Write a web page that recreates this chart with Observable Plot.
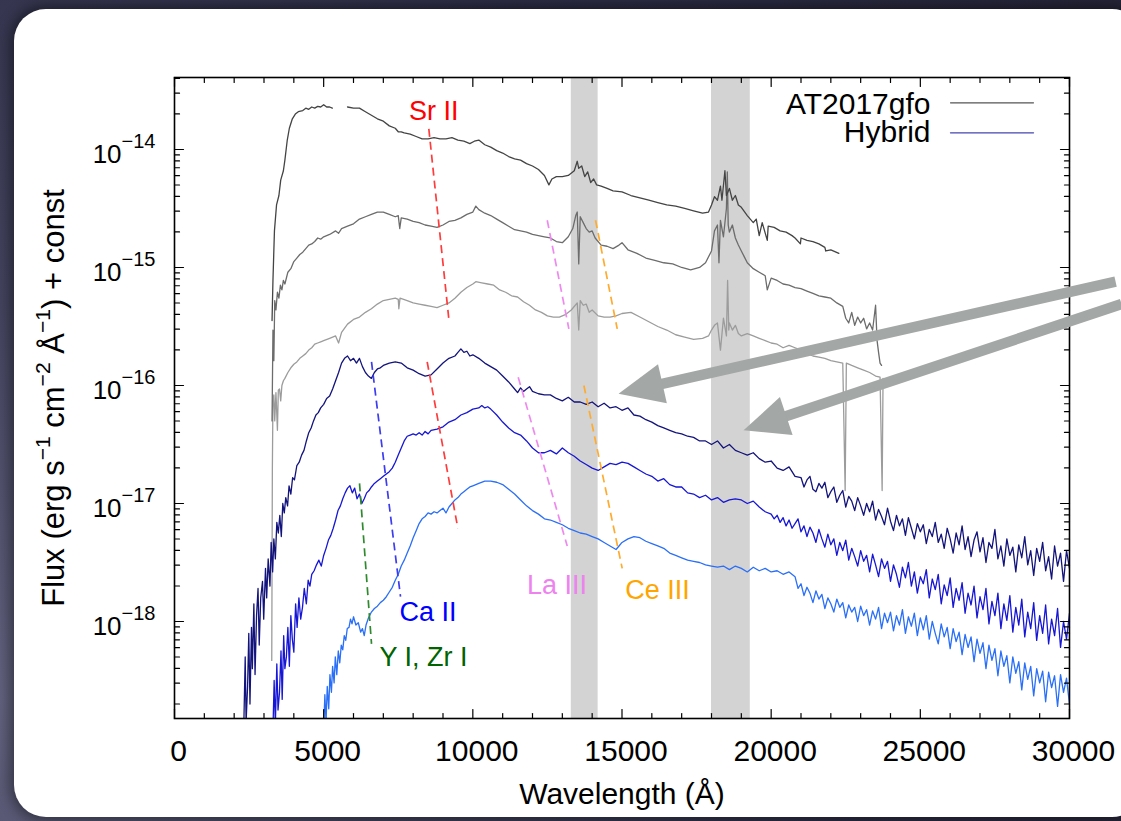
<!DOCTYPE html>
<html><head><meta charset="utf-8">
<script src="https://cdn.jsdelivr.net/npm/d3@7"></script>
<script src="https://cdn.jsdelivr.net/npm/@observablehq/plot@0.6"></script>
<style>
html,body{margin:0;padding:0;width:1121px;height:821px;overflow:hidden;}
body{position:relative;background:radial-gradient(circle at 0% 85%, #62627f 0%, #44445f 30%, #2e2e48 65%, #26263a 100%);font-family:"Liberation Sans",Arial,sans-serif;}
#panel{position:absolute;left:14px;top:9px;width:1130px;height:808px;background:#fff;border-radius:32px;box-shadow:0 0 14px 4px rgba(0,0,0,0.45);}
#chart{position:absolute;left:0;top:0;}
</style></head><body><div id="panel"></div><div id="chart"></div>
<script>
// ---- spectra: [wavelength (Å), log10 flux (erg s^-1 cm^-2 Å^-1) + const]
const at2017gfoTop = [[3270,-15.45],[3300,-15.11],[3350,-14.69],[3420,-14.47],[3500,-14.39],[3560,-14.26],[3650,-14.18],[3700,-14.09],[3780,-13.92],[3850,-13.82],[3950,-13.74],[4050,-13.70],[4150,-13.68],[4300,-13.67],[4400,-13.65],[4500,-13.66],[4600,-13.64],[4700,-13.65],[4800,-13.635],[4900,-13.64],[5000,-13.62],[5100,-13.64],[5200,-13.64],[5290,-13.65],[5500,NaN],[5800,-13.64],[6000,-13.65],[6200,-13.65],[6400,-13.68],[6600,-13.71],[6800,-13.74],[7000,-13.76],[7200,-13.80],[7400,-13.82],[7500,-13.85],[7600,-13.85],[7700,-13.86],[7900,-13.87],[8100,-13.89],[8300,-13.91],[8500,-13.91],[8700,-13.90],[8900,-13.91],[9100,-13.91],[9300,-13.90],[9500,-13.92],[9700,-13.93],[9900,-13.95],[10050,-13.93],[10200,-13.92],[10400,-13.96],[10600,-13.98],[10800,-14.01],[11000,-14.03],[11200,-14.06],[11400,-14.08],[11600,-14.09],[11800,-14.12],[12000,-14.14],[12200,-14.17],[12400,-14.22],[12550,-14.30],[12650,-14.25],[12800,-14.23],[13000,-14.23],[13200,-14.22],[13400,-14.18],[13500,-14.10],[13550,-14.16],[13650,-14.14],[13750,-14.23],[13850,-14.19],[13950,-14.28],[14050,-14.25],[14150,-14.30],[14300,-14.31],[14500,-14.33],[14700,-14.35],[15000,-14.36],[15300,-14.39],[15600,-14.41],[15900,-14.43],[16200,-14.45],[16500,-14.47],[16800,-14.48],[17100,-14.50],[17400,-14.52],[17700,-14.54],[17900,-14.53],[18000,-14.47],[18100,-14.40],[18200,-14.43],[18300,-14.31],[18350,-14.43],[18450,-14.18],[18500,-14.39],[18600,-14.33],[18700,-14.43],[18800,-14.39],[18900,-14.47],[19000,-14.49],[19200,-14.56],[19400,-14.62],[19500,-14.59],[19600,-14.73],[19700,-14.62],[19870,-14.77],[19900,-14.65],[20100,-14.66],[20300,-14.69],[20500,-14.70],[20700,-14.73],[20800,-14.75],[20980,-14.80],[21000,-14.75],[21200,-14.77],[21400,-14.78],[21600,-14.80],[21800,-14.83],[21830,-14.86],[22000,-14.85],[22270,-14.88]];

const at2017gfoMid = [[3270,-16.30],[3300,-15.53],[3330,-15.79],[3360,-15.28],[3400,-15.36],[3450,-15.21],[3500,-15.26],[3550,-15.15],[3600,-15.19],[3650,-15.11],[3700,-15.14],[3800,-15.04],[3900,-15.01],[4000,-14.95],[4100,-14.92],[4200,-14.89],[4300,-14.87],[4400,-14.84],[4500,-14.81],[4600,-14.80],[4700,-14.78],[4800,-14.75],[4900,-14.76],[5000,-14.74],[5200,-14.72],[5400,-14.69],[5500,-14.71],[5600,-14.67],[5800,-14.65],[6000,-14.63],[6200,-14.59],[6400,-14.57],[6600,-14.55],[6800,-14.53],[7000,-14.53],[7200,-14.55],[7400,-14.57],[7500,-14.56],[7550,-14.67],[7600,-14.58],[7800,-14.59],[8000,-14.61],[8200,-14.62],[8400,-14.64],[8600,-14.65],[8800,-14.66],[9000,-14.64],[9200,-14.61],[9400,-14.60],[9600,-14.58],[9800,-14.55],[10000,-14.53],[10100,-14.48],[10200,-14.51],[10400,-14.54],[10600,-14.56],[10800,-14.59],[11000,-14.62],[11200,-14.65],[11400,-14.68],[11600,-14.69],[11800,-14.70],[12000,-14.72],[12200,-14.73],[12400,-14.74],[12600,-14.75],[12800,-14.78],[13000,-14.79],[13200,-14.74],[13350,-14.67],[13450,-14.56],[13500,-14.53],[13550,-14.97],[13600,-14.57],[13700,-14.62],[13800,-14.67],[13900,-14.70],[14000,-14.69],[14100,-14.75],[14300,-14.81],[14500,-14.82],[14700,-14.84],[14900,-14.81],[15000,-14.79],[15200,-14.85],[15500,-14.88],[15800,-14.92],[16100,-14.94],[16400,-14.96],[16700,-14.97],[17000,-15.00],[17300,-15.02],[17600,-15.00],[17800,-14.96],[18000,-14.86],[18100,-14.69],[18200,-14.64],[18250,-14.96],[18300,-14.60],[18400,-14.74],[18500,-14.50],[18530,-14.19],[18560,-14.64],[18600,-14.70],[18700,-14.64],[18800,-14.75],[18900,-14.81],[19000,-14.86],[19100,-14.91],[19200,-14.96],[19400,-15.01],[19600,-15.04],[19800,-15.07],[19870,-15.19],[20000,-15.09],[20200,-15.11],[20400,-15.14],[20600,-15.15],[20800,-15.17],[21000,-15.18],[21200,-15.20],[21400,-15.22],[21600,-15.24],[21800,-15.25],[22000,-15.26],[22200,-15.30],[22400,-15.33],[22500,-15.43],[22600,-15.47],[22700,-15.38],[22800,-15.49],[22900,-15.42],[23000,-15.47],[23100,-15.43],[23200,-15.52],[23300,-15.47],[23400,-15.53],[23500,-15.32],[23550,-15.62],[23600,-15.72],[23650,-15.81],[23700,-15.83]];

const at2017gfoLow = [[3260,-18.33],[3280,-16.72],[3300,-16.13],[3330,-16.08],[3360,-16.30],[3400,-16.06],[3450,-16.38],[3480,-16.04],[3520,-16.03],[3560,-16.13],[3600,-16.00],[3650,-15.96],[3700,-15.94],[3800,-15.89],[3900,-15.85],[4000,-15.82],[4100,-15.80],[4200,-15.77],[4300,-15.75],[4400,-15.73],[4500,-15.70],[4600,-15.68],[4700,-15.65],[4800,-15.64],[4900,-15.63],[5000,-15.62],[5200,-15.60],[5400,-15.58],[5500,-15.64],[5600,-15.55],[5800,-15.48],[6000,-15.44],[6200,-15.42],[6400,-15.38],[6600,-15.35],[6800,-15.31],[7000,-15.28],[7200,-15.27],[7400,-15.26],[7500,-15.27],[7520,-15.35],[7560,-15.26],[7800,-15.28],[8000,-15.30],[8200,-15.31],[8400,-15.32],[8600,-15.33],[8800,-15.34],[9000,-15.32],[9200,-15.30],[9400,-15.26],[9600,-15.21],[9800,-15.17],[10000,-15.14],[10100,-15.12],[10300,-15.13],[10500,-15.14],[10700,-15.15],[10900,-15.19],[11100,-15.21],[11300,-15.24],[11500,-15.25],[11700,-15.29],[11900,-15.32],[12100,-15.36],[12300,-15.38],[12500,-15.41],[12700,-15.42],[12900,-15.42],[13100,-15.40],[13300,-15.36],[13500,-15.30],[13550,-15.53],[13600,-15.28],[13700,-15.32],[13800,-15.31],[13900,-15.38],[14000,-15.36],[14200,-15.41],[14400,-15.42],[14600,-15.42],[14800,-15.41],[15000,-15.39],[15300,-15.38],[15600,-15.42],[15900,-15.46],[16200,-15.50],[16500,-15.53],[16800,-15.57],[17100,-15.59],[17400,-15.61],[17700,-15.60],[17900,-15.58],[18000,-15.53],[18100,-15.49],[18200,-15.47],[18300,-15.70],[18400,-15.43],[18500,-15.58],[18540,-15.11],[18580,-15.53],[18600,-15.47],[18700,-15.53],[18800,-15.49],[18900,-15.56],[19000,-15.58],[19200,-15.56],[19400,-15.58],[19600,-15.60],[19800,-15.62],[20000,-15.64],[20200,-15.65],[20400,-15.68],[20600,-15.66],[20800,-15.68],[21000,-15.70],[21200,-15.73],[21400,-15.75],[21600,-15.76],[21800,-15.77],[22000,-15.79],[22200,-15.80],[22400,-15.81],[22480,-16.89],[22520,-15.81],[22700,-15.83],[22900,-15.85],[23100,-15.87],[23300,-15.89],[23500,-15.92],[23650,-15.93],[23720,-16.89],[23750,-15.94]];

const hybridTop = [[2320,-18.92],[2370,-18.30],[2400,-18.85],[2450,-18.55],[2490,-18.10],[2530,-18.70],[2580,-18.05],[2610,-18.40],[2660,-17.85],[2700,-18.45],[2750,-17.95],[2800,-17.72],[2840,-18.20],[2890,-17.80],[2950,-17.66],[2990,-17.98],[3050,-17.55],[3090,-17.80],[3140,-17.47],[3200,-17.70],[3240,-17.33],[3290,-17.58],[3330,-17.30],[3380,-17.47],[3430,-17.16],[3480,-17.25],[3530,-17.10],[3580,-17.28],[3630,-17.00],[3680,-17.08],[3730,-16.95],[3790,-17.02],[3840,-16.85],[3900,-16.92],[3960,-16.78],[4020,-16.80],[4100,-16.68],[4180,-16.65],[4260,-16.59],[4340,-16.55],[4420,-16.47],[4500,-16.40],[4580,-16.36],[4660,-16.30],[4740,-16.25],[4820,-16.23],[4900,-16.19],[5000,-16.16],[5100,-16.11],[5200,-16.09],[5300,-16.03],[5400,-15.96],[5500,-15.89],[5600,-15.81],[5700,-15.77],[5800,-15.75],[5900,-15.79],[6000,-15.77],[6100,-15.81],[6200,-15.77],[6300,-15.84],[6400,-15.89],[6500,-15.92],[6600,-15.94],[6700,-15.89],[6800,-15.86],[6900,-15.85],[7000,-15.83],[7200,-15.81],[7400,-15.80],[7600,-15.81],[7800,-15.85],[8000,-15.87],[8200,-15.90],[8400,-15.92],[8600,-15.91],[8800,-15.86],[9000,-15.81],[9200,-15.77],[9400,-15.75],[9500,-15.72],[9600,-15.69],[9700,-15.72],[9800,-15.71],[9900,-15.75],[10000,-15.74],[10200,-15.77],[10400,-15.81],[10600,-15.84],[10800,-15.87],[11000,-15.92],[11200,-15.97],[11400,-16.03],[11500,-16.06],[11600,-16.02],[11700,-16.05],[11800,-16.03],[11900,-16.01],[12000,-16.05],[12200,-16.07],[12400,-16.08],[12600,-16.08],[12800,-16.11],[13000,-16.13],[13200,-16.10],[13400,-16.14],[13600,-16.14],[13800,-16.16],[14000,-16.14],[14200,-16.18],[14400,-16.15],[14600,-16.19],[14800,-16.18],[15000,-16.21],[15200,-16.19],[15400,-16.25],[15600,-16.26],[15800,-16.29],[16000,-16.31],[16200,-16.34],[16400,-16.36],[16600,-16.38],[16800,-16.40],[17000,-16.41],[17200,-16.43],[17400,-16.44],[17600,-16.47],[17800,-16.47],[18000,-16.50],[18200,-16.47],[18400,-16.53],[18600,-16.50],[18800,-16.55],[19000,-16.57],[19200,-16.59],[19400,-16.57],[19600,-16.62],[19800,-16.65],[20000,-16.64],[20200,-16.70],[20400,-16.72],[20600,-16.69],[20800,-16.77],[21000,-16.78],[21100,-16.86],[21200,-16.80],[21300,-16.77],[21400,-16.88],[21500,-16.90],[21600,-16.83],[21700,-16.87],[21800,-16.82],[21900,-16.95],[22000,-16.90],[22100,-16.86],[22200,-16.99],[22300,-16.93],[22400,-16.89],[22500,-17.03],[22600,-16.94],[22700,-16.98],[22800,-17.06],[22900,-16.95],[23000,-17.02],[23100,-17.10],[23200,-17.00],[23300,-17.07],[23400,-16.98],[23500,-17.14],[23600,-17.05],[23700,-17.11],[23800,-17.18],[23900,-17.04],[24000,-17.15],[24100,-17.23],[24200,-17.10],[24300,-17.19],[24400,-17.13],[24500,-17.27],[24600,-17.12],[24700,-17.21],[24800,-17.30],[24900,-17.17],[25000,-17.24],[25100,-17.18],[25200,-17.34],[25300,-17.22],[25400,-17.28],[25500,-17.16],[25600,-17.33],[25700,-17.26],[25800,-17.38],[25900,-17.21],[26000,-17.30],[26100,-17.42],[26200,-17.25],[26300,-17.35],[26400,-17.19],[26500,-17.39],[26600,-17.28],[26700,-17.45],[26800,-17.31],[26900,-17.24],[27000,-17.41],[27100,-17.29],[27200,-17.50],[27300,-17.33],[27400,-17.38],[27500,-17.22],[27600,-17.47],[27700,-17.36],[27800,-17.53],[27900,-17.30],[28000,-17.44],[28100,-17.37],[28200,-17.58],[28300,-17.35],[28400,-17.46],[28500,-17.28],[28600,-17.52],[28700,-17.40],[28800,-17.61],[28900,-17.38],[29000,-17.49],[29100,-17.33],[29200,-17.57],[29300,-17.45],[29400,-17.64],[29500,-17.36],[29600,-17.53],[29700,-17.42],[29800,-17.66],[29900,-17.40],[30000,-17.55]];

const hybridMid = [[3300,-18.92],[3340,-18.50],[3380,-18.88],[3430,-18.36],[3470,-18.75],[3520,-18.60],[3570,-18.25],[3610,-18.66],[3660,-18.12],[3700,-18.40],[3750,-18.30],[3800,-18.05],[3850,-18.38],[3900,-17.95],[3950,-18.15],[4000,-18.26],[4060,-17.85],[4110,-18.05],[4170,-17.80],[4230,-17.98],[4290,-17.88],[4350,-17.72],[4420,-17.85],[4480,-17.65],[4540,-17.70],[4600,-17.60],[4680,-17.57],[4760,-17.52],[4840,-17.48],[4920,-17.53],[5000,-17.44],[5080,-17.38],[5160,-17.31],[5240,-17.27],[5320,-17.21],[5400,-17.14],[5480,-17.06],[5560,-17.02],[5640,-16.96],[5720,-16.91],[5800,-16.87],[5880,-16.85],[5960,-16.91],[6040,-16.87],[6120,-16.96],[6200,-16.92],[6280,-17.00],[6360,-16.96],[6440,-16.91],[6520,-16.89],[6600,-16.86],[6700,-16.83],[6800,-16.81],[6900,-16.79],[7000,-16.77],[7100,-16.75],[7200,-16.73],[7300,-16.70],[7400,-16.65],[7500,-16.59],[7600,-16.53],[7700,-16.47],[7800,-16.43],[7900,-16.42],[8000,-16.41],[8100,-16.42],[8200,-16.40],[8300,-16.42],[8400,-16.39],[8500,-16.41],[8600,-16.38],[8800,-16.37],[9000,-16.35],[9200,-16.31],[9400,-16.29],[9600,-16.25],[9800,-16.23],[10000,-16.20],[10200,-16.19],[10300,-16.17],[10400,-16.19],[10500,-16.18],[10600,-16.20],[10800,-16.25],[11000,-16.31],[11200,-16.36],[11400,-16.40],[11600,-16.42],[11800,-16.47],[12000,-16.53],[12200,-16.57],[12400,-16.57],[12600,-16.55],[12800,-16.58],[13000,-16.53],[13200,-16.57],[13400,-16.60],[13600,-16.64],[13800,-16.67],[14000,-16.70],[14200,-16.72],[14400,-16.69],[14600,-16.66],[14800,-16.67],[15000,-16.65],[15200,-16.66],[15400,-16.69],[15600,-16.72],[15800,-16.75],[16000,-16.77],[16200,-16.81],[16400,-16.79],[16600,-16.84],[16800,-16.86],[17000,-16.86],[17200,-16.91],[17400,-16.92],[17600,-16.95],[17800,-16.93],[18000,-16.97],[18200,-16.95],[18400,-16.99],[18600,-16.97],[18800,-16.96],[19000,-16.97],[19200,-17.00],[19400,-16.98],[19600,-17.03],[19800,-17.07],[20000,-17.09],[20100,-17.13],[20200,-17.10],[20300,-17.16],[20400,-17.12],[20500,-17.19],[20600,-17.14],[20700,-17.21],[20800,-17.17],[20900,-17.13],[21000,-17.24],[21100,-17.19],[21200,-17.28],[21300,-17.20],[21400,-17.25],[21500,-17.33],[21600,-17.22],[21700,-17.30],[21800,-17.37],[21900,-17.26],[22000,-17.35],[22100,-17.30],[22200,-17.44],[22300,-17.33],[22400,-17.40],[22500,-17.31],[22600,-17.48],[22700,-17.38],[22800,-17.45],[22900,-17.53],[23000,-17.40],[23100,-17.49],[23200,-17.44],[23300,-17.58],[23400,-17.43],[23500,-17.52],[23600,-17.62],[23700,-17.47],[23800,-17.55],[23900,-17.49],[24000,-17.66],[24100,-17.52],[24200,-17.60],[24300,-17.71],[24400,-17.54],[24500,-17.63],[24600,-17.50],[24700,-17.70],[24800,-17.58],[24900,-17.76],[25000,-17.62],[25100,-17.68],[25200,-17.56],[25300,-17.80],[25400,-17.64],[25500,-17.73],[25600,-17.60],[25700,-17.85],[25800,-17.69],[25900,-17.78],[26000,-17.63],[26100,-17.88],[26200,-17.72],[26300,-17.82],[26400,-17.67],[26500,-17.93],[26600,-17.76],[26700,-17.86],[26800,-17.70],[26900,-17.97],[27000,-17.79],[27100,-17.90],[27200,-17.72],[27300,-18.02],[27400,-17.83],[27500,-17.95],[27600,-17.76],[27700,-18.06],[27800,-17.85],[27900,-17.99],[28000,-17.78],[28100,-18.09],[28200,-17.88],[28300,-18.03],[28400,-17.81],[28500,-18.13],[28600,-17.92],[28700,-18.06],[28800,-17.84],[28900,-18.16],[29000,-17.95],[29100,-18.10],[29200,-17.86],[29300,-18.19],[29400,-17.98],[29500,-18.12],[29600,-17.89],[29700,-18.22],[29800,-18.00],[29900,-18.15],[30000,-17.93]];

const hybridLow = [[5000,-18.92],[5040,-18.62],[5080,-18.85],[5120,-18.55],[5170,-18.74],[5210,-18.45],[5260,-18.60],[5300,-18.38],[5350,-18.52],[5390,-18.30],[5440,-18.45],[5490,-18.25],[5540,-18.35],[5590,-18.20],[5640,-18.24],[5690,-18.12],[5740,-18.16],[5790,-18.06],[5850,-18.05],[5900,-17.98],[5950,-18.02],[6000,-17.96],[6080,-18.03],[6160,-18.01],[6240,-18.09],[6300,-18.06],[6360,-18.12],[6420,-18.03],[6500,-17.97],[6600,-17.92],[6700,-17.89],[6800,-17.87],[6900,-17.84],[7000,-17.82],[7100,-17.79],[7200,-17.75],[7300,-17.71],[7400,-17.65],[7500,-17.60],[7600,-17.53],[7700,-17.48],[7800,-17.42],[7900,-17.36],[8000,-17.29],[8100,-17.23],[8200,-17.17],[8300,-17.13],[8400,-17.11],[8500,-17.08],[8600,-17.09],[8700,-17.07],[8800,-17.08],[8900,-17.06],[9000,-17.04],[9100,-17.08],[9200,-17.03],[9300,-17.00],[9400,-16.97],[9500,-16.95],[9600,-16.92],[9700,-16.90],[9800,-16.88],[9900,-16.86],[10000,-16.85],[10200,-16.83],[10400,-16.81],[10600,-16.81],[10800,-16.82],[11000,-16.84],[11200,-16.88],[11400,-16.92],[11600,-16.97],[11800,-17.02],[12000,-17.06],[12200,-17.09],[12400,-17.13],[12600,-17.14],[12800,-17.16],[13000,-17.18],[13200,-17.21],[13400,-17.23],[13600,-17.25],[13800,-17.26],[14000,-17.28],[14200,-17.30],[14400,-17.33],[14600,-17.36],[14800,-17.39],[14900,-17.36],[15000,-17.33],[15200,-17.30],[15400,-17.28],[15600,-17.29],[15800,-17.32],[16000,-17.34],[16200,-17.36],[16400,-17.38],[16600,-17.42],[16800,-17.44],[17000,-17.46],[17200,-17.48],[17400,-17.49],[17600,-17.50],[17800,-17.52],[18000,-17.53],[18200,-17.54],[18400,-17.53],[18600,-17.56],[18800,-17.53],[19000,-17.55],[19200,-17.58],[19400,-17.54],[19600,-17.57],[19800,-17.55],[20000,-17.58],[20200,-17.57],[20400,-17.60],[20600,-17.58],[20800,-17.62],[20900,-17.72],[21000,-17.68],[21100,-17.78],[21200,-17.71],[21300,-17.76],[21400,-17.84],[21500,-17.74],[21600,-17.81],[21700,-17.77],[21800,-17.89],[21900,-17.80],[22000,-17.85],[22100,-17.92],[22200,-17.81],[22300,-17.88],[22400,-17.84],[22500,-17.97],[22600,-17.86],[22700,-17.92],[22800,-17.88],[22900,-18.00],[23000,-17.87],[23100,-17.95],[23200,-17.90],[23300,-18.03],[23400,-17.91],[23500,-17.98],[23600,-17.88],[23700,-18.06],[23800,-17.93],[23900,-18.01],[24000,-17.92],[24100,-18.08],[24200,-17.95],[24300,-18.03],[24400,-17.90],[24500,-18.10],[24600,-17.96],[24700,-18.04],[24800,-17.93],[24900,-18.12],[25000,-17.97],[25100,-18.07],[25200,-17.95],[25300,-18.15],[25400,-18.00],[25500,-18.10],[25600,-18.19],[25700,-18.02],[25800,-18.13],[25900,-18.05],[26000,-18.23],[26100,-18.06],[26200,-18.17],[26300,-18.09],[26400,-18.28],[26500,-18.11],[26600,-18.22],[26700,-18.13],[26800,-18.34],[26900,-18.15],[27000,-18.27],[27100,-18.18],[27200,-18.40],[27300,-18.20],[27400,-18.33],[27500,-18.23],[27600,-18.46],[27700,-18.25],[27800,-18.38],[27900,-18.29],[28000,-18.52],[28100,-18.30],[28200,-18.44],[28300,-18.34],[28400,-18.58],[28500,-18.35],[28600,-18.49],[28700,-18.38],[28800,-18.63],[28900,-18.40],[29000,-18.52],[29100,-18.42],[29200,-18.68],[29300,-18.43],[29400,-18.56],[29500,-18.46],[29600,-18.72],[29700,-18.45],[29800,-18.60],[29900,-18.48],[30000,-18.70]];

// ---- line identifications (dashed guides), log10 flux at the ends
const ionLineName = ["Sr II","Sr II","Ca II","Y I, Zr I","La III","La III","Ce III","Ce III"];
const ionLineW1 = [8525, 8470, 6604, 6202, 12494, 11521, 14113, 13722];
const ionLineL1 = [-13.825, -15.80, -15.80, -16.83, -14.60, -15.93, -14.60, -16.00];
const ionLineW2 = [9195, 9498, 7576, 6604, 13219, 13164, 14840, 15007];
const ionLineL2 = [-15.435, -17.21, -17.79, -18.19, -15.52, -17.36, -15.52, -17.55];

const ionNames = ["Sr II","Ca II","Y I, Zr I","La III","Ce III"];
const ionLabelW = [8693, 8498, 8347, 12823, 16192];
const ionLabelL = [-13.68, -17.92, -18.30, -17.69, -17.74];

// telluric bands (Å)
const bandStart = [13300, 18000];
const bandEnd = [14200, 19300];

// pointing arrows: from (w1,l1) to tip (w2,l2)
const arrowW1 = [31545, 31746];
const arrowL1 = [-15.12, -15.31];
const arrowW2 = [14884, 19075];
const arrowL2 = [-16.07, -16.38];

const xTicksMajor = [0, 5000, 10000, 15000, 20000, 25000, 30000];
const yTicksMajor = [1e-18, 1e-17, 1e-16, 1e-15, 1e-14];
const legendNames = ["AT2017gfo", "Hybrid"];
const xLabel = "Wavelength (Å)";
const yLabel = "Flux (erg s^{−1} cm^{−2} Å^{−1}) + const";

// ---- styles
const ionLineColor = {"Sr II":"#ff3c3c","Ca II":"#3c3cf0","Y I, Zr I":"#2f8a2f","La III":"#ee8aee","Ce III":"#ffab2e"};
const ionTextColor = {"Sr II":"#ff0000","Ca II":"#0000ff","Y I, Zr I":"#006400","La III":"#ee82ee","Ce III":"#ffa500"};
const FONT = "'Liberation Sans', Arial, Helvetica, sans-serif";
const W = 1121, H = 821;
const mL = 174, mR = 52, mT = 77, mB = 103;
const xDomain = [0, 30000];
const yDomain = [Math.pow(10, -18.822), Math.pow(10, -13.39)];
const arrowColor = "#a3a7a5";

const rows = (arr) => arr.map(([w, l]) => ({w, f: Number.isFinite(l) ? Math.pow(10, l) : NaN}));

const ionLines = ionLineName.map((n, i) => ({n, w1: ionLineW1[i], f1: 10 ** ionLineL1[i], w2: ionLineW2[i], f2: 10 ** ionLineL2[i]}));
const ionLabels = ionNames.map((n, i) => ({n, w: ionLabelW[i], f: 10 ** ionLabelL[i]}));
const bands = bandStart.map((a, i) => ({a, b: bandEnd[i]}));

// scales mirror Plot's, used only to orient the arrow heads
const xs = d3.scaleLinear(xDomain, [mL, W - mR]);
const ys = d3.scaleLog(yDomain, [H - mB, mT]);
const HEAD_L = 45, HEAD_W = 40;
const arrows = arrowW1.map((w1, i) => {
  const f1 = 10 ** arrowL1[i], w2 = arrowW2[i], f2 = 10 ** arrowL2[i];
  const px0 = xs(w1), py0 = ys(f1), px1 = xs(w2), py1 = ys(f2);
  const ang = Math.atan2(py1 - py0, px1 - px0);
  const bx = px1 - (HEAD_L - 6) * Math.cos(ang), by = py1 - (HEAD_L - 6) * Math.sin(ang);
  return {w1, f1, w2, f2, bw: xs.invert(bx), bf: ys.invert(by), rot: ang * 180 / Math.PI};
});
const headSymbol = {draw(ctx) { ctx.moveTo(0, 0); ctx.lineTo(-HEAD_L, -HEAD_W / 2); ctx.lineTo(-HEAD_L, HEAD_W / 2); ctx.closePath(); }};
const tickShape = {draw(ctx, l) { ctx.moveTo(0, 0); ctx.lineTo(0, -l); }};

const xMinor = d3.range(0, 30001, 1000).filter(v => v % 5000 !== 0);
const yMinor = [];
for (let e = -19; e <= -14; e++) for (let m = 2; m <= 9; m++) { const v = m * 10 ** e; if (v > yDomain[0] && v < yDomain[1]) yMinor.push(v); }

const tickMarks = [];
for (const [vals, len] of [[xTicksMajor, 9], [xMinor, 5]]) {
  tickMarks.push(Plot.vector(vals, {x: d => d, frameAnchor: "bottom", length: len, rotate: 0, anchor: "start", shape: tickShape, stroke: "#000", strokeWidth: 1.2}));
  tickMarks.push(Plot.vector(vals, {x: d => d, frameAnchor: "top", length: len, rotate: 180, anchor: "start", shape: tickShape, stroke: "#000", strokeWidth: 1.2}));
}
for (const [vals, len] of [[yTicksMajor, 9], [yMinor, 5]]) {
  tickMarks.push(Plot.vector(vals, {y: d => d, frameAnchor: "left", length: len, rotate: 90, anchor: "start", shape: tickShape, stroke: "#000", strokeWidth: 1.2}));
  tickMarks.push(Plot.vector(vals, {y: d => d, frameAnchor: "right", length: len, rotate: -90, anchor: "start", shape: tickShape, stroke: "#000", strokeWidth: 1.2}));
}

const spec = (arr, color) => Plot.line(rows(arr), {x: "w", y: "f", stroke: color, strokeWidth: 1.3, clip: true});

const plot = Plot.plot({
  width: W, height: H,
  marginLeft: mL, marginRight: mR, marginTop: mT, marginBottom: mB,
  style: {background: "transparent", fontFamily: FONT, overflow: "visible"},
  x: {domain: xDomain},
  y: {type: "log", domain: yDomain},
  marks: [
    Plot.rect(bands, {x1: "a", x2: "b", fill: "#d3d3d3"}),
    spec(at2017gfoLow, "#9c9c9c"),
    spec(at2017gfoMid, "#6c6c6c"),
    spec(at2017gfoTop, "#444444"),
    spec(hybridLow, "#2a6ff8"),
    spec(hybridMid, "#1616d4"),
    spec(hybridTop, "#13137c"),
    Plot.link(ionLines, {x1: "w1", y1: "f1", x2: "w2", y2: "f2", stroke: d => ionLineColor[d.n], strokeWidth: 1.7, strokeDasharray: "8,5"}),
    Plot.text(ionLabels, {x: "w", y: "f", text: "n", fill: d => ionTextColor[d.n], fontSize: 27, fontFamily: FONT}),
    // legend
    Plot.text([legendNames[0]], {frameAnchor: "top-right", dx: -139, dy: 26.5, text: d => d, textAnchor: "end", lineAnchor: "middle", fontSize: 30, fontFamily: FONT, fill: "#000"}),
    Plot.text([legendNames[1]], {frameAnchor: "top-right", dx: -139, dy: 55, text: d => d, textAnchor: "end", lineAnchor: "middle", fontSize: 30, fontFamily: FONT, fill: "#000"}),
    Plot.vector([0], {frameAnchor: "top-right", dx: -119, dy: 25.3, length: 83, rotate: 90, anchor: "start", shape: tickShape, stroke: "#555", strokeWidth: 1.2}),
    Plot.vector([0], {frameAnchor: "top-right", dx: -119, dy: 55.3, length: 83, rotate: 90, anchor: "start", shape: tickShape, stroke: "#4646b0", strokeWidth: 1.3}),
    Plot.frame({stroke: "#000", strokeWidth: 1.6}),
    ...tickMarks,
    Plot.axisX(xTicksMajor, {tickSize: 0, tickPadding: 21, dx: 4, fontSize: 30, fontFamily: FONT, fill: "#000", tickFormat: d => String(d), label: null}),
    Plot.axisY(yTicksMajor, {tickSize: 0, tickPadding: 19, dy: 5, fontSize: 26, fontFamily: FONT, fill: "#000", tickFormat: d => "10^{" + String(Math.round(Math.log10(d))).replace("-", "−") + "}", label: null}),
    Plot.text([xLabel], {frameAnchor: "bottom", dy: 76, text: d => d, textAnchor: "middle", lineAnchor: "middle", fontSize: 30, fontFamily: FONT, fill: "#000"}),
    Plot.text([yLabel], {frameAnchor: "left", dx: -120, rotate: -90, text: d => d, textAnchor: "middle", lineAnchor: "middle", fontSize: 31, fontFamily: FONT, fill: "#000"}),
    // arrows
    Plot.link(arrows, {x1: "w1", y1: "f1", x2: "bw", y2: "bf", stroke: arrowColor, strokeWidth: 10.5, strokeLinecap: "butt"}),
    Plot.dot(arrows, {x: "w2", y: "f2", rotate: "rot", symbol: headSymbol, r: 10, fill: arrowColor, stroke: "none"})
  ]
});
document.getElementById("chart").appendChild(plot);

// render ^{...} as real superscript tspans
function supify(root) {
  root.querySelectorAll("text").forEach(t => {
    const s = t.textContent;
    if (!s.includes("^{")) return;
    const fs = parseFloat(getComputedStyle(t).fontSize) || 20;
    const isTick = s.startsWith("10^{");
    const supSize = isTick ? fs * 0.77 : fs * 0.68;
    const raise = isTick ? fs * 0.57 : fs * 0.45;
    const parts = s.split(/(\^\{[^}]*\})/);
    while (t.firstChild) t.removeChild(t.firstChild);
    let raised = false;
    for (const p of parts) {
      if (!p) continue;
      const ts = document.createElementNS("http://www.w3.org/2000/svg", "tspan");
      if (p.startsWith("^{")) {
        ts.textContent = p.slice(2, -1);
        ts.setAttribute("font-size", supSize);
        ts.setAttribute("dy", -raise);
        raised = true;
      } else {
        ts.textContent = p;
        if (raised) { ts.setAttribute("dy", raise); raised = false; }
      }
      t.appendChild(ts);
    }
  });
}
supify(plot);
</script></body></html>
